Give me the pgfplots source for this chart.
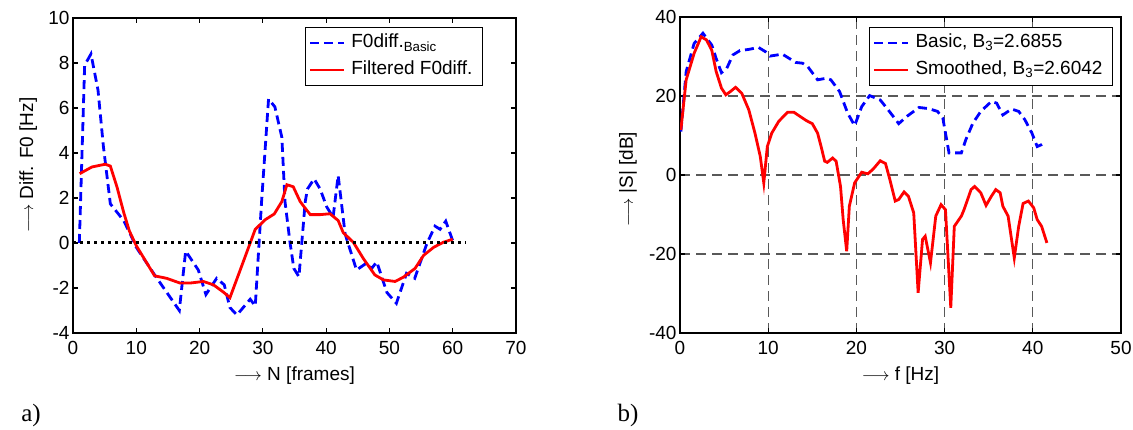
\documentclass[border=0pt]{standalone}
\usepackage{pgfplots}
\pgfplotsset{compat=1.18}
\usepackage{fontspec}
\setmainfont{Liberation Sans}
\newfontfamily\seriffont{Liberation Serif}
\newcommand\fs{\fontsize{19}{22}\selectfont}
\begin{document}
\begin{tikzpicture}
\path[use as bounding box] (0pt,0pt) rectangle (1133pt,430pt);
\pgfplotsset{
 mystyle/.style={
  scale only axis,
  axis line style={line width=1.3pt},
  every tick/.style={black, line width=1.1pt},
  major tick length=5pt,
  tick align=inside,
  /pgf/number format/assume math mode=true,
  tick label style={font=\fs},
  xticklabel style={yshift=-5pt},
  label style={font=\fs},
  legend style={font=\fs, draw=black, line width=1.1pt, fill=white, legend cell align=left,
     inner xsep=4pt, inner ysep=4pt, row sep=4pt,
     nodes={inner xsep=6pt, inner ysep=2pt, text height=14pt, text depth=5pt}},
  legend image code/.code={\draw[##1, line width=2.2pt] (0pt,0pt) -- (34pt,0pt);},
 },
 bluedash/.style={blue, line width=2.8pt, dash pattern=on 9pt off 5pt},
 redline/.style={red, line width=2.8pt},
}
\begin{axis}[mystyle, at={(73pt,97pt)}, anchor=south west, width=443pt, height=315pt,
  xmin=0, xmax=70, ymin=-4, ymax=10,
  xtick={0,10,...,70}, ytick={-4,-2,...,10},
  xlabel={$\longrightarrow$\ N [frames]},
  ylabel={$\longrightarrow$\ Diff. F0 [Hz]},
  xlabel style={at={(axis description cs:0.5,-0.135)}, anchor=center},
  ylabel style={at={(axis description cs:-0.101,0.533)}, anchor=center},
  legend style={at={(0.9255,0.971)}, anchor=north east},
]
\addplot[bluedash] coordinates {
(1,0)(1.84,7.9)(2.84,8.4)(3.95,6.8)(4.8,4.3)(5.9,1.74)(8,1.0)(9.3,0.25)(10,-0.19)(12.9,-1.42)(16.8,-3.0)(17.8,-0.36)(19.8,-1.2)(21,-2.29)(22.7,-1.57)(23.9,-1.86)(24.8,-2.87)(25.9,-3.2)(28,-2.5)(28.8,-2.8)(29.8,1.84)(30.9,6.4)(31.9,6.05)(33,4.7)(33.5,1.84)(34.3,0)(34.9,-1.13)(35.7,-1.5)(36.7,1.84)(37.05,2.4)(38.1,2.85)(39.05,2.4)(40.1,1.6)(41.1,1.15)(41.9,3.0)(43,0.4)(44.8,-1.2)(46.3,-0.91)(47.2,-1.13)(48,-0.84)(49.6,-2.2)(51.1,-2.68)(52.7,-1.35)(54,-1.57)(55.9,-0.04)(57.2,0.75)(58,0.61)(58.9,0.97)(60,0.1)
};
\addlegendentry{F0diff.\textsubscript{Basic}}
\addplot[redline] coordinates {
(1.05,3.08)(3,3.38)(5.1,3.5)(5.9,3.42)(6.95,2.49)(8,1.37)(8.9,0.54)(10,-0.12)(12.9,-1.46)(14.8,-1.57)(16.9,-1.78)(18.5,-1.78)(20.6,-1.71)(22.2,-1.86)(23.8,-2.19)(24.8,-2.43)(26.7,-0.99)(28,0)(28.8,0.61)(30.4,1.04)(31.8,1.29)(33,1.84)(33.8,2.59)(34.8,2.5)(35.9,1.84)(36.9,1.47)(37.5,1.26)(39.05,1.26)(40.6,1.3)(41.9,1.0)(42.7,0.46)(44.3,0.03)(45.9,-0.7)(47.7,-1.42)(49.05,-1.64)(50.9,-1.71)(52.2,-1.52)(54.05,-1.13)(55.4,-0.55)(57,-0.19)(58.5,0.03)(60,0.17)
};
\addlegendentry{Filtered F0diff.}
\addplot[black, line width=3pt, dash pattern=on 3pt off 4pt, forget plot] coordinates {(0,0)(62,0)};
\end{axis}

\begin{axis}[mystyle, at={(680pt,97pt)}, anchor=south west, width=441pt, height=316pt,
  xmin=0, xmax=50, ymin=-40, ymax=40,
  xtick={0,10,...,50}, ytick={-40,-20,...,40},
  grid=major, grid style={black!65, line width=1.3pt, dash pattern=on 10pt off 6pt},
  xlabel={$\longrightarrow$\ f [Hz]},
  ylabel={$\longrightarrow$\ |S| [dB]},
  xlabel style={at={(axis description cs:0.5,-0.135)}, anchor=center},
  ylabel style={at={(axis description cs:-0.118,0.487)}, anchor=center},
  legend style={at={(0.982,0.968)}, anchor=north east},
]
\addplot[bluedash] coordinates {
(0.1,11)(0.7,26.2)(1.6,33.3)(2.6,35.9)(3.6,32.9)(4.1,29.5)(4.7,25.9)(5.3,27)(6,30.4)(6.8,31.5)(7.8,31.8)(8.9,32.3)(9.7,31.2)(10.2,30.1)(11.6,30.6)(12.4,29.5)(13.1,28.5)(13.9,28.3)(14.5,27.4)(15.6,24.1)(16.6,24.5)(17.1,24.1)(18.1,21.1)(19,15.7)(19.8,12.5)(20.6,17.3)(21.5,20.1)(22.7,19)(23.6,16.5)(24.8,13)(25.7,14.8)(27.1,17.1)(28.2,16.8)(29.2,16.1)(29.8,14.4)(30.5,5.6)(31.9,5.6)(32.4,8.9)(33.2,13.1)(34.1,16.1)(35.3,18.6)(35.9,18.2)(36.6,15.2)(37.6,16.7)(38.4,16.1)(39.1,14)(39.9,10.6)(40.5,7.2)(41,7.7)(41.5,8.5)
};
\addlegendentry{Basic, B\textsubscript{3}=2.6855}
\addplot[redline] coordinates {
(0.1,11.4)(0.7,24.1)(1.6,30.8)(2.4,35)(3,34.2)(3.6,31.6)(4.1,26.2)(4.7,22)(5.2,20.3)(5.7,21.1)(6.3,22.2)(7,20.7)(7.8,16.5)(8.5,10.6)(9.1,4.7)(9.5,-2)(9.9,7.2)(10.4,10.6)(11.2,13.6)(12.2,15.9)(12.9,15.9)(13.5,15)(14.3,13.8)(15,13)(15.6,10.6)(16,7.2)(16.4,3.5)(16.7,3.2)(17.3,4.3)(17.7,3.5)(18.2,-2.9)(18.5,-11.3)(18.9,-19.3)(19.2,-7.9)(19.8,-2)(20.6,0.7)(21.3,0.3)(21.9,1.5)(22.7,3.6)(23.3,2.9)(23.8,-1.2)(24.4,-6.6)(24.8,-6.2)(25.4,-4.3)(25.9,-5.4)(26.5,-9.6)(27,-29.8)(27.5,-16.3)(27.8,-15.5)(28.4,-22.2)(29,-10.4)(29.6,-7.5)(30.1,-8.8)(30.7,-33.6)(31.1,-13)(31.9,-10.4)(32.2,-8.8)(33,-3.7)(33.4,-2.9)(34.1,-4.5)(34.7,-7.7)(35.3,-5.4)(35.8,-3.7)(36.3,-4.5)(36.6,-7.9)(37.2,-10.4)(37.9,-21)(38.4,-13)(38.9,-7.2)(39.5,-6.6)(40.1,-8.3)(40.5,-11.3)(41,-13)(41.6,-17.2)
};
\addlegendentry{Smoothed, B\textsubscript{3}=2.6042}
\end{axis}

\node[font=\seriffont\fontsize{25}{28}\selectfont] at (31pt,15pt) {a)};
\node[font=\seriffont\fontsize{25}{28}\selectfont] at (628pt,15pt) {b)};
\end{tikzpicture}
\end{document}
